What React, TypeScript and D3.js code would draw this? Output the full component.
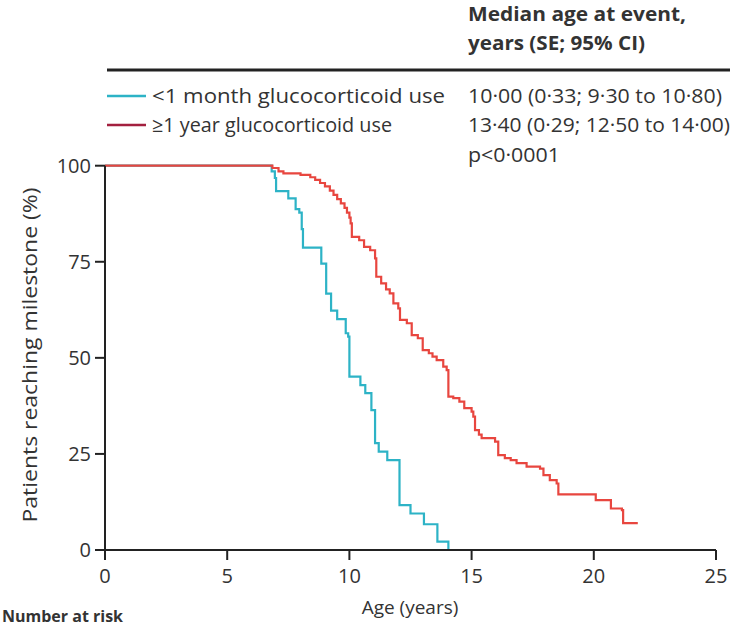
import React from "react";
import * as d3 from "d3";

// Kaplan-Meier step data: [age (years), % reaching milestone after step]
const shortUseSteps: [number, number][] = [
  [0, 100], [6.82, 98.5], [6.95, 96.8], [7.0, 93.4], [7.5, 91.5], [7.8, 88.7],
  [7.95, 87.8], [8.05, 83.5], [8.1, 78.7], [8.85, 74.5], [9.05, 66.7],
  [9.25, 62.3], [9.5, 60.1], [9.85, 56.4], [9.95, 55.5], [10.0, 45.1],
  [10.45, 42.9], [10.65, 40.8], [10.9, 36.4], [11.05, 27.8], [11.2, 25.6],
  [11.55, 23.4], [12.05, 11.7], [12.5, 9.5], [13.05, 6.7], [13.6, 2.2],
  [14.05, 0],
];

const longUseSteps: [number, number][] = [
  [0, 100], [6.85, 99.4], [7.1, 98.5], [7.3, 98.0], [8.0, 97.6], [8.4, 97.0],
  [8.6, 96.3], [8.8, 95.5], [9.0, 94.6], [9.2, 93.5], [9.35, 92.4], [9.5, 91.3],
  [9.65, 90.2], [9.8, 89.0], [9.9, 87.8], [10.0, 86.5], [10.05, 85.0],
  [10.1, 81.5], [10.4, 80.6], [10.6, 78.9], [10.85, 78.0], [11.05, 75.9],
  [11.1, 71.1], [11.3, 69.4], [11.5, 67.8], [11.65, 66.8], [11.8, 64.2],
  [12.0, 62.9], [12.07, 59.9], [12.35, 59.0], [12.55, 55.9], [12.8, 55.1],
  [13.0, 52.0], [13.25, 51.2], [13.4, 50.3], [13.57, 49.4], [13.84, 47.7],
  [13.98, 46.8], [14.05, 39.9], [14.25, 39.5], [14.5, 38.6], [14.7, 36.9],
  [15.0, 36.0], [15.07, 34.7], [15.14, 31.2], [15.3, 30.0], [15.41, 29.1],
  [15.96, 28.2], [16.09, 24.7], [16.36, 23.9], [16.6, 23.4], [16.84, 22.6],
  [17.25, 21.7], [17.8, 21.2], [17.94, 19.5], [18.2, 18.2], [18.48, 17.3],
  [18.55, 14.5], [20.08, 13.0], [20.7, 10.8], [21.15, 10.4], [21.2, 7.0],
  [21.8, 7.0],
];

const seriesNames = ["<1 month glucocorticoid use", "≥1 year glucocorticoid use"];
const seriesStats = [
  "10·00 (0·33; 9·30 to 10·80)",
  "13·40 (0·29; 12·50 to 14·00)",
];
const pValueText = "p<0·0001";
const headerLines = ["Median age at event,", "years (SE; 95% CI)"];
const xTicks = [0, 5, 10, 15, 20, 25];
const yTicks = [0, 25, 50, 75, 100];
const xTitle = "Age (years)";
const yTitle = "Patients reaching milestone (%)";
const riskTitle = "Number at risk";

const CYAN = "#2db3c6";
const RED = "#e8463f";
const MAROON = "#a3203f";
const INK = "#333";
const AXIS = "#222";
const FONT = "'Open Sans', 'Noto Sans', sans-serif";

// widths the texts take in the reference layout
const headerWidths = [218, 177];
const nameWidths = [293, 240];
const statWidths = [254, 262];

export default function App() {
  const width = 736;
  const height = 630;
  const x = d3.scaleLinear().domain([0, 25]).range([105, 716]);
  const y = d3.scaleLinear().domain([0, 100]).range([550, 165.7]);

  const line = d3
    .line<[number, number]>()
    .x((d) => x(d[0]))
    .y((d) => y(d[1]))
    .curve(d3.curveStepAfter);

  return (
    <svg
      width={width}
      height={height}
      style={{ position: "absolute", left: 0, top: 0, background: "#fff" }}
      fontFamily={FONT}
    >
      {/* header */}
      {headerLines.map((t, i) => (
        <text
          key={t}
          x={468}
          y={21 + i * 29}
          fontSize={20}
          fontWeight={700}
          fill={INK}
          textLength={headerWidths[i]}
          lengthAdjust="spacingAndGlyphs"
        >
          {t}
        </text>
      ))}
      <line x1={107} x2={730} y1={70} y2={70} stroke={AXIS} strokeWidth={3} />

      {/* legend */}
      {[CYAN, MAROON].map((c, i) => (
        <g key={i}>
          <line x1={107} x2={146} y1={96 + i * 29} y2={96 + i * 29} stroke={c} strokeWidth={2.5} />
          <text
            x={152}
            y={103 + i * 29}
            fontSize={20}
            fill={INK}
            textLength={nameWidths[i]}
            lengthAdjust="spacingAndGlyphs"
          >
            {seriesNames[i]}
          </text>
          <text
            x={468}
            y={103 + i * 29}
            fontSize={20}
            fill={INK}
            textLength={statWidths[i]}
            lengthAdjust="spacingAndGlyphs"
          >
            {seriesStats[i]}
          </text>
        </g>
      ))}
      <text x={468} y={162} fontSize={20} fill={INK} textLength={92} lengthAdjust="spacingAndGlyphs">
        {pValueText}
      </text>

      {/* curves */}
      <path d={line(shortUseSteps) || ""} fill="none" stroke={CYAN} strokeWidth={2.2} />
      <path d={line(longUseSteps) || ""} fill="none" stroke={RED} strokeWidth={2.2} />

      {/* axes */}
      <line x1={x(0)} x2={x(0)} y1={y(100)} y2={y(0)} stroke={AXIS} strokeWidth={2} />
      <line x1={x(0)} x2={x(25)} y1={y(0)} y2={y(0)} stroke={AXIS} strokeWidth={2} />
      {yTicks.map((t) => (
        <g key={"y" + t}>
          <line x1={x(0) - 10} x2={x(0)} y1={y(t)} y2={y(t)} stroke={AXIS} strokeWidth={2} />
          <text x={x(0) - 14} y={y(t)} dy="0.36em" textAnchor="end" fontSize={20} fill={INK}>
            {t}
          </text>
        </g>
      ))}
      {xTicks.map((t) => (
        <g key={"x" + t}>
          <line x1={x(t)} x2={x(t)} y1={y(0)} y2={y(0) + 10} stroke={AXIS} strokeWidth={2} />
          <text x={x(t)} y={583} textAnchor="middle" fontSize={20} fill={INK}>
            {t}
          </text>
        </g>
      ))}
      <text x={410} y={614} textAnchor="middle" fontSize={19} fill={INK}>
        {xTitle}
      </text>
      <text
        transform={`translate(37, 355) rotate(-90)`}
        textAnchor="middle"
        fontSize={20}
        fill={INK}
        textLength={335}
        lengthAdjust="spacingAndGlyphs"
      >
        {yTitle}
      </text>
      <text x={2} y={622} fontSize={16} fontWeight={700} fill={INK}>
        {riskTitle}
      </text>
    </svg>
  );
}
